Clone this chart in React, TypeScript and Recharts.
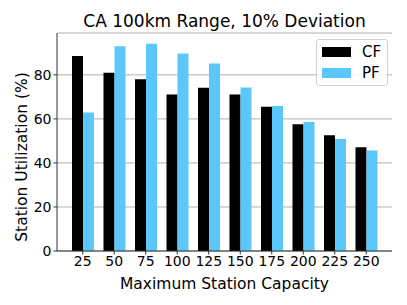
import React from "react";
import { BarChart, Bar, XAxis, YAxis, CartesianGrid } from "recharts";

const categories = ["25", "50", "75", "100", "125", "150", "175", "200", "225", "250"];
const cfValues = [88.5, 80.9, 78.0, 71.1, 74.1, 71.1, 65.5, 57.6, 52.6, 47.1];
const pfValues = [62.9, 93.0, 94.1, 89.7, 85.2, 74.3, 65.8, 58.6, 50.9, 45.6];
const yTicks = [0, 20, 40, 60, 80];

const CF_COLOR = "#000000";
const PF_COLOR = "#5AC8FA";
const FONT = "DejaVu Sans, sans-serif";
const SPINE = "#333333";

const data = categories.map((c, i) => ({ cap: c, CF: cfValues[i], PF: pfValues[i] }));

const PLOT = { left: 57, top: 33, width: 335, height: 218 };

const LegendBox = () => (
  <div
    style={{
      position: "absolute",
      left: 316,
      top: 39,
      width: 72,
      height: 47,
      boxSizing: "border-box",
      border: "1px solid #d0d0d0",
      borderRadius: 3,
      background: "rgba(255,255,255,0.8)",
      fontFamily: FONT,
      fontSize: 15,
      color: "#000",
      zIndex: 20,
    }}
  >
    {[
      { name: "CF", color: CF_COLOR, top: 7 },
      { name: "PF", color: PF_COLOR, top: 28 },
    ].map((it) => (
      <div key={it.name}>
        <div
          style={{ position: "absolute", left: 5, top: it.top, width: 29, height: 10, background: it.color }}
        />
        <div style={{ position: "absolute", left: 45, top: it.top - 5, lineHeight: "20px" }}>{it.name}</div>
      </div>
    ))}
  </div>
);

export default function App() {
  return (
    <div style={{ position: "absolute", left: 0, top: 0, width: 407, height: 305, background: "#fff" }}>
      <div
        style={{
          position: "absolute",
          left: 0,
          width: 449,
          top: 8,
          textAlign: "center",
          fontFamily: FONT,
          fontSize: 17,
          lineHeight: "26px",
          color: "#000",
          whiteSpace: "nowrap",
        }}
      >
        CA 100km Range, 10% Deviation
      </div>
      <div style={{ position: "absolute", left: 0, top: 0, width: 407, height: 305 }}>
        <BarChart
          width={407}
          height={305}
          data={data}
          margin={{ top: PLOT.top, right: 407 - PLOT.left - PLOT.width, bottom: 0, left: 0 }}
          barGap={0}
          barSize={11}
        >
          <CartesianGrid vertical={false} stroke="#b0b0b0" strokeWidth={1} />
          <XAxis
            dataKey="cap"
            height={305 - PLOT.top - PLOT.height}
            padding={{ left: 10, right: 10 }}
            axisLine={{ stroke: SPINE }}
            tickLine={{ stroke: SPINE }}
            tickSize={3.5}
            tick={{ fill: "#000", fontSize: 14, fontFamily: FONT }}
            interval={0}
            label={{
              value: "Maximum Station Capacity",
              position: "insideBottom",
              offset: 16,
              style: { fill: "#000", fontSize: 15.5, fontFamily: FONT },
            }}
          />
          <XAxis
            xAxisId="top"
            orientation="top"
            dataKey="cap"
            height={0}
            padding={{ left: 10, right: 10 }}
            axisLine={{ stroke: SPINE }}
            tick={false}
            tickLine={false}
          />
          <YAxis
            width={PLOT.left}
            domain={[0, 99]}
            ticks={yTicks}
            axisLine={{ stroke: SPINE }}
            tickLine={{ stroke: SPINE }}
            tickSize={3.5}
            tick={{ fill: "#000", fontSize: 14, fontFamily: FONT }}
            label={() => (
              <text
                x={22}
                y={157}
                transform="rotate(-90 22 157)"
                textAnchor="middle"
                dominantBaseline="central"
                fill="#000"
                fontSize={15.5}
                fontFamily={FONT}
              >
                Station Utilization (%)
              </text>
            )}
          />
          <YAxis
            yAxisId="right"
            orientation="right"
            width={0}
            domain={[0, 99]}
            axisLine={{ stroke: SPINE }}
            tick={false}
            tickLine={false}
          />
          <Bar dataKey="CF" fill={CF_COLOR} isAnimationActive={false} />
          <Bar dataKey="PF" fill={PF_COLOR} isAnimationActive={false} />
        </BarChart>
      </div>
      <LegendBox />
    </div>
  );
}
